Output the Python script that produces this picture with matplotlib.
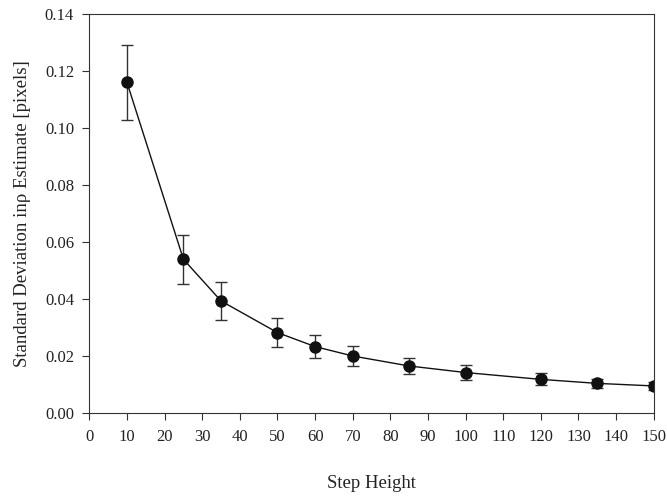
import matplotlib
matplotlib.use("Agg")
import matplotlib.pyplot as plt

step_height = [10, 25, 35, 50, 60, 70, 85, 100, 120, 135, 150]
std_dev = [0.1160, 0.0540, 0.0394, 0.0283, 0.0234, 0.0201, 0.0166, 0.0143, 0.0119, 0.0105, 0.0096]
std_err = [0.0130, 0.0085, 0.0066, 0.0052, 0.0040, 0.0034, 0.0029, 0.0025, 0.0021, 0.0017, 0.0015]

x_ticks = list(range(0, 151, 10))
y_ticks = [0.00, 0.02, 0.04, 0.06, 0.08, 0.10, 0.12, 0.14]

plt.rcParams["font.family"] = ["Liberation Serif", "DejaVu Serif"]
plt.rcParams["font.size"] = 12

fig = plt.figure(figsize=(6.67, 4.96), dpi=100)
ax = fig.add_axes([0.134, 0.1667, 0.846, 0.805])

ax.errorbar(step_height, std_dev, yerr=std_err, fmt="o-", color="#111111",
            ecolor="#333333", elinewidth=1.0, capsize=4, capthick=1.0,
            markersize=8, linewidth=1.0)

ax.set_xlim(0, 150)
ax.set_ylim(0, 0.14)
ax.set_xticks(x_ticks)
ax.set_yticks(y_ticks)
ax.set_yticklabels([f"{v:.2f}" for v in y_ticks])
ax.tick_params(direction="out", length=5, width=0.8, color="#333333", pad=6,
               labelcolor="#222222")
for s in ax.spines.values():
    s.set_linewidth(0.8)
    s.set_color("#333333")

ax.set_xlabel("Step Height", fontsize=13.5, labelpad=22, color="#222222")
ax.set_ylabel("Standard Deviation in\u03c1 Estimate [pixels]", fontsize=13.5,
              labelpad=10, color="#222222")

fig.savefig("out.png", dpi=100)
